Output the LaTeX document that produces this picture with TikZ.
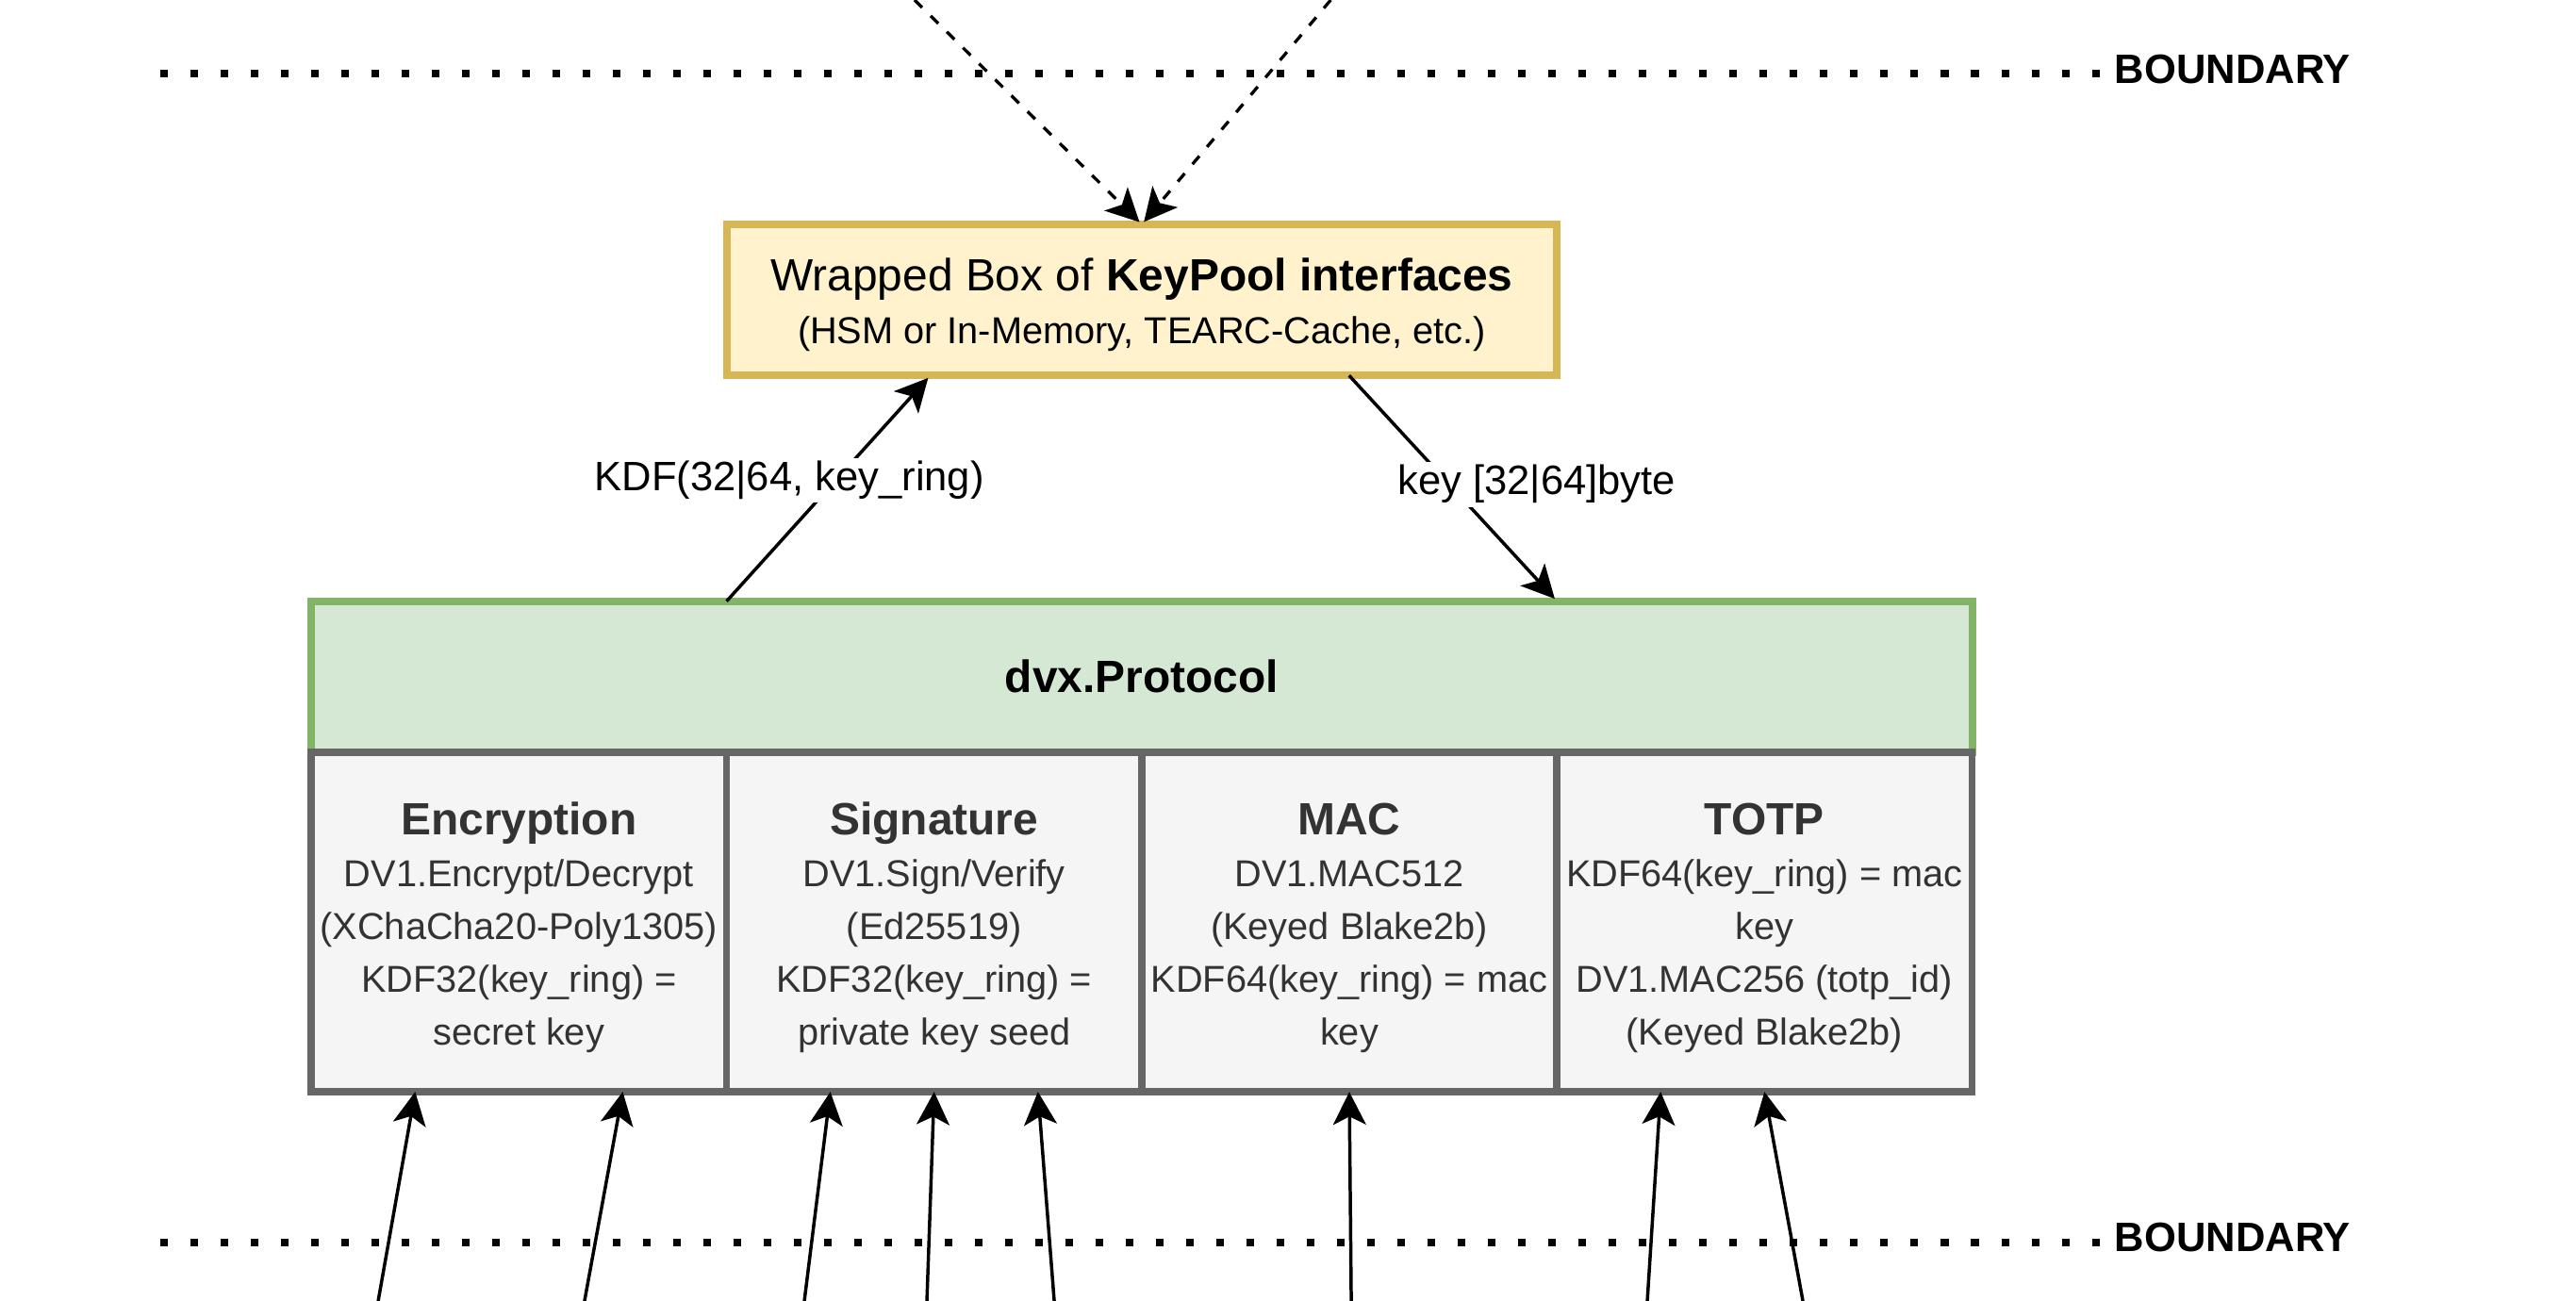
\documentclass[tikz,border=0pt]{standalone}
\usepackage{fontspec}
\setmainfont{Liberation Sans}
\usepackage{tikz}
\usetikzlibrary{arrows.meta,calc,positioning}
\definecolor{poolfill}{HTML}{FFF2CC}
\definecolor{poolline}{HTML}{D6B656}
\definecolor{protofill}{HTML}{D5E8D4}
\definecolor{protoline}{HTML}{82B366}
\definecolor{modfill}{HTML}{F5F5F5}
\definecolor{modline}{HTML}{666666}
\definecolor{modtext}{HTML}{333333}
\tikzset{%
	keypool/.style   = {draw=poolline, fill=poolfill, line width=4.5pt, rectangle, minimum width=504.7pt, minimum height=92pt, align=center, outer sep=0pt, inner sep=0pt, font=\fontsize{22.8}{32}\selectfont},
	protocol/.style  = {draw=protoline, fill=protofill, line width=4.5pt, rectangle, minimum width=1010.9pt, minimum height=92pt, align=center, outer sep=0pt, font=\fontsize{27.5}{33}\selectfont\bfseries},
	module/.style    = {draw=modline, fill=modfill, text=modtext, line width=4.5pt, rectangle, minimum width=252.7pt, minimum height=206.7pt, align=center, outer sep=0pt, inner sep=0pt, font=\fontsize{22.8}{32}\selectfont},
	arrow/.style     = {line width=2pt, -{Stealth[length=20pt, width=20pt, inset=5pt]}},
	dasharrow/.style = {arrow, line width=1.9pt, dash pattern=on 6.5pt off 7.3pt},
	boundary/.style  = {line width=4.6pt, dash pattern=on 4.6pt off 13.77pt},
	edgelabel/.style = {fill=white, inner sep=2pt, font=\fontsize{25}{30}\selectfont},
	bndlabel/.style  = {anchor=west, inner sep=0pt, font=\fontsize{25}{30}\selectfont\bfseries},
}
\newcommand{\modtitle}[1]{{\fontsize{27.5}{32}\selectfont\bfseries\rule{0pt}{26pt}#1}\\}

\begin{document}
\begin{tikzpicture}[x=1pt,y=-1pt]
	\useasboundingbox (0,0) rectangle (1568,792);
	\clip (0,0) rectangle (1568,792);
	\draw[boundary] (97.6,44.6) -- (1278,44.6) node[bndlabel, xshift=7pt, yshift=2.5pt] {BOUNDARY};  % upper boundary
	\draw[boundary] (97.6,756.6) -- (1278,756.6) node[bndlabel, xshift=7pt, yshift=3.3pt] {BOUNDARY};  % lower boundary
	\node[protocol] (proto) at (695,412) {dvx.Protocol};
	\node[keypool, above=137.4pt of proto] (pool) {{\fontsize{27.5}{32}\selectfont\rule{0pt}{26pt}Wrapped Box of \textbf{KeyPool interfaces}}\\(HSM or In-Memory, TEARC-Cache, etc.)};
	\node[module, anchor=north west] (enc) at (proto.south west) {\modtitle{Encryption}DV1.Encrypt/Decrypt\\(XChaCha20-Poly1305)\\KDF32(key\_ring) =\\secret key};
	\node[module, right=0pt of enc] (sig) {\modtitle{Signature}DV1.Sign/Verify\\(Ed25519)\\KDF32(key\_ring) =\\private key seed};
	\node[module, right=0pt of sig] (mac) {\modtitle{MAC}DV1.MAC512\\(Keyed Blake2b)\\KDF64(key\_ring) = mac\\key};
	\node[module, right=0pt of mac] (totp) {\modtitle{TOTP}KDF64(key\_ring) = mac\\key\\DV1.MAC256 (totp\_id)\\(Keyed Blake2b)};
	\draw[arrow, shorten >=2pt] ($(proto.north west)!.25!(proto.north east)$) -- ($(pool.south west)!.245!(pool.south east)$) node[edgelabel, pos=.55, xshift=-30pt, yshift=-2pt] {KDF(32|64, key\_ring)};
	\draw[arrow, shorten >=2pt] ($(pool.south west)!.75!(pool.south east)$) -- ($(proto.north west)!.75!(proto.north east)$) node[edgelabel, pos=.46, xshift=56pt, yshift=-3pt] {key [32|64]byte};
	\draw[dasharrow, shorten >=2pt] (556.7,0) coordinate (ext1) -- (pool.north);
	\draw[dasharrow, shorten >=2pt] (810,0) coordinate (ext2) -- (pool.north);
	\foreach \blk/\frc/\xb [count=\i] in {enc/.25/230.2, enc/.75/355.8, sig/.25/489.6, sig/.5/564.2, sig/.75/641.7, mac/.5/822.5, totp/.25/1002.7, totp/.5/1097.4}
		\draw[arrow] (\xb,792) coordinate (in\i) -- ($(\blk.south west)!\frc!(\blk.south east)$);
\end{tikzpicture}
\end{document}
